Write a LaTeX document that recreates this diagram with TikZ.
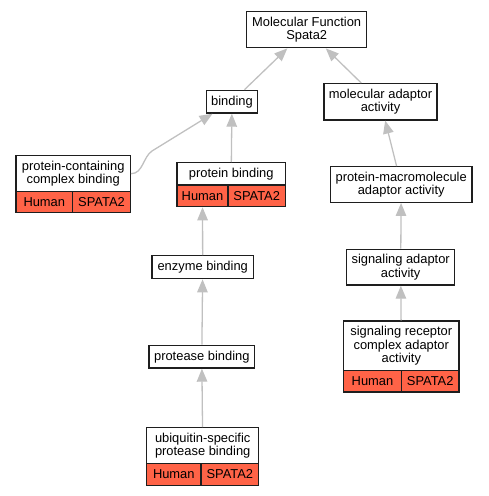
\documentclass[tikz,border=0pt]{standalone}
\usepackage{fontspec}
\setmainfont{Liberation Sans}
\usetikzlibrary{arrows.meta,calc}
\definecolor{edgegray}{RGB}{192,192,192}
\definecolor{cellred}{RGB}{255,99,71}
\definecolor{bordergray}{RGB}{30,30,30}
\begin{document}
\begin{tikzpicture}[x=1pt,y=-1pt,
  box/.style={draw=bordergray,line width=1.3pt,fill=white,inner sep=0pt,align=center,
    font=\fontsize{12.9}{13.1}\selectfont},
  cell/.style={box,fill=cellred},
  edge/.style={draw=edgegray,line width=1.3pt,-{Triangle[length=13pt,width=10.5pt]}}]
\useasboundingbox (0,0) rectangle (488,496);
% plain boxes
\node[box,minimum width=120pt,minimum height=36pt] (mf) at (306.7,29.7) {Molecular Function\\Spata2};
\node[box,minimum width=50.6pt,minimum height=22.7pt] (bind) at (232,101.7) {binding};
\node[box,minimum width=113pt,minimum height=36.3pt] (mad) at (380.5,101.8) {molecular adaptor\\activity};
\node[box,minimum width=141.7pt,minimum height=35.6pt] (pma) at (401.2,184.5) {protein-macromolecule\\adaptor activity};
\node[box,minimum width=108pt,minimum height=35.7pt] (sad) at (400.7,267.2) {signaling adaptor\\activity};
\node[box,minimum width=101.3pt,minimum height=23pt] (enz) at (202.7,267.2) {enzyme binding};
\node[box,minimum width=105.7pt,minimum height=22.7pt] (prot) at (201.8,356.7) {protease binding};
% record: protein-containing complex binding
\node[box,minimum width=114.3pt,minimum height=36pt] (pccT) at (73.2,173.7) {protein-containing\\complex binding};
\node[cell,minimum width=56.7pt,minimum height=21pt] (pccH) at (44.3,202.2) {Human};
\node[cell,minimum width=57.6pt,minimum height=21pt] (pccS) at (101.5,202.2) {SPATA2};
% record: protein binding
\node[box,minimum width=108.3pt,minimum height=22.3pt] (pbT) at (231.2,173.8) {protein binding};
\node[cell,minimum width=51pt,minimum height=21.7pt] (pbH) at (202.5,195.8) {Human};
\node[cell,minimum width=57.3pt,minimum height=21.7pt] (pbS) at (256.7,195.8) {SPATA2};
% record: signaling receptor complex adaptor activity
\node[box,minimum width=115.3pt,minimum height=49.3pt] (srcT) at (401.3,345.7) {signaling receptor\\complex adaptor\\activity};
\node[cell,minimum width=57.6pt,minimum height=21.7pt] (srcH) at (372.5,381.2) {Human};
\node[cell,minimum width=57.7pt,minimum height=21.7pt] (srcS) at (430.2,381.2) {SPATA2};
% record: ubiquitin-specific protease binding
\node[box,minimum width=112pt,minimum height=35.6pt] (ubT) at (202.7,445.5) {ubiquitin-specific\\protease binding};
\node[cell,minimum width=54.3pt,minimum height=22pt] (ubH) at (173.8,474.3) {Human};
\node[cell,minimum width=57.7pt,minimum height=22pt] (ubS) at (229.8,474.3) {SPATA2};
% edges
\draw[edge] (bind) -- (mf);
\draw[edge] (mad) -- (mf);
\coordinate (bend) at (152,151);
\draw[edge] (pccT.east) .. controls (143,173.7) and (143,157) .. (bend) -- (bind);
\draw[edge] (pbT) -- (bind);
\draw[edge] (pma) -- (mad);
\draw[edge] (sad) -- (pma);
\draw[edge] (srcT) -- (sad);
\draw[edge] (enz) -- (pbH);
\draw[edge] (prot) -- (enz);
\draw[edge] (ubT) -- (prot);
\end{tikzpicture}
\end{document}
